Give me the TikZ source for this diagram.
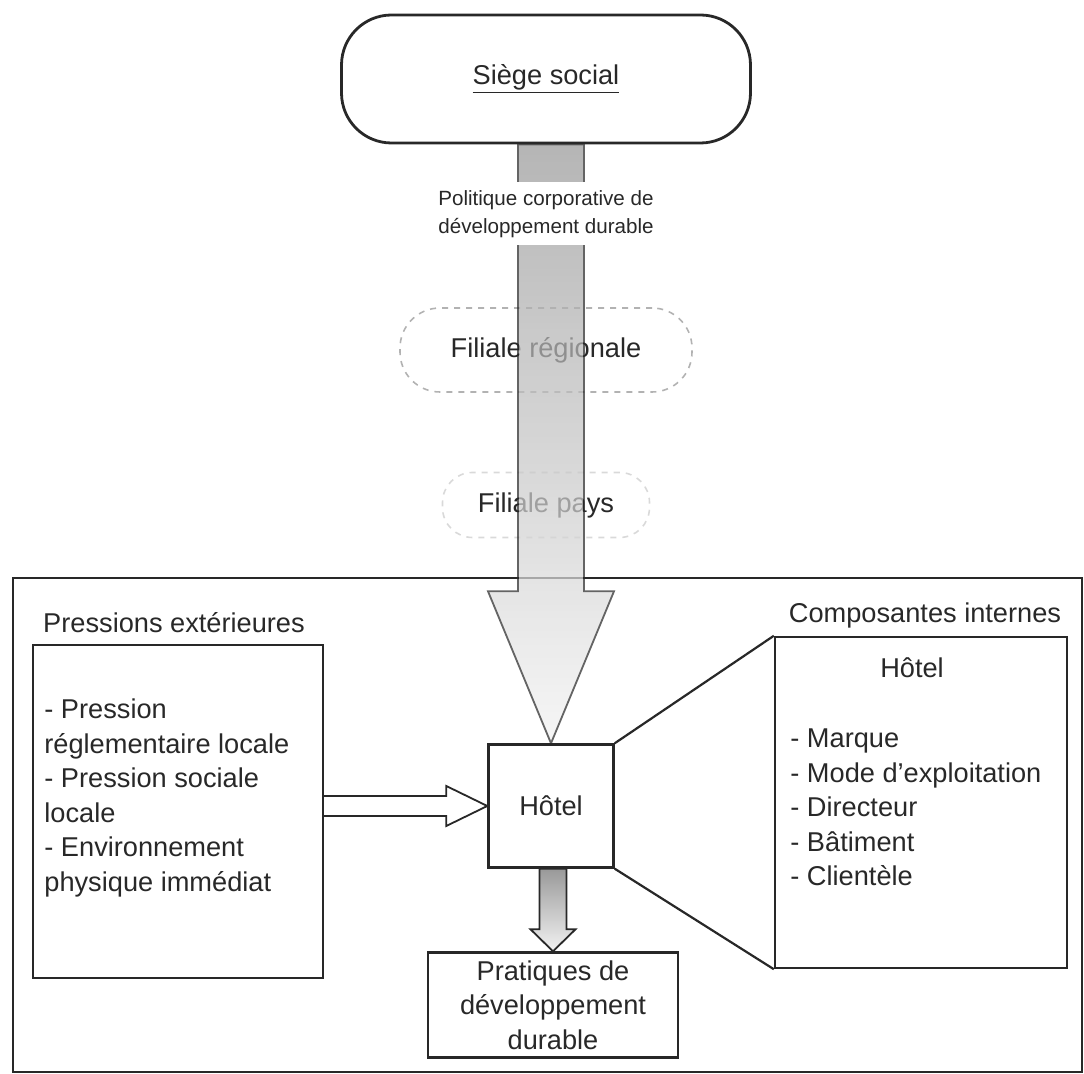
\documentclass[tikz,border=0pt]{standalone}
\usepackage{fontspec}
\setmainfont{Liberation Sans}
\usepackage{tikz}
\usetikzlibrary{positioning, calc}
\definecolor{inkgray}{HTML}{282828}
\newcommand{\px}{0.5pt}
\newcommand{\bigtext}{\fontsize{13.6}{17.25}\selectfont}
\newcommand{\smalltext}{\fontsize{10.3}{14}\selectfont}
\tikzstyle{every block}=[draw=inkgray, line width=1.2pt, text=inkgray, inner sep=0pt, font=\bigtext]
\tikzstyle{plainBox}=[every block, rectangle]
\tikzstyle{roundBox}=[every block, line width=1.4pt, rounded corners=25pt]
\tikzstyle{ghostBox}=[draw=gray!60, dashed, line width=0.8pt, text=inkgray, font=\bigtext]
\tikzstyle{plainText}=[text=inkgray, inner sep=0pt, font=\bigtext]
\tikzstyle{line}=[draw=inkgray, line width=1.1pt]
\tikzstyle{fatArrow}=[draw=inkgray, line width=0.9pt, top color=gray!80, bottom color=gray!10]
\tikzstyle{hollowArrow}=[draw=inkgray, line width=0.9pt, fill=white]

\begin{document}
\begin{tikzpicture}[x=0.5pt, y=-0.5pt]
      \useasboundingbox (0,0) rectangle (1084,1074);

      % top of the chain
      \node[roundBox, minimum width=409*\px, minimum height=128*\px] (siege) at (546,79) {\underline{Siège social}};
      \node[ghostBox, rounded corners=20pt, minimum width=292*\px, minimum height=84*\px] (regional) at (546,350) {Filiale régionale};
      \node[ghostBox, draw=gray!30, rounded corners=15pt, minimum width=207*\px, minimum height=65*\px] (country) at (546,505) {Filiale pays};

      % the hotel and its surroundings
      \node[plainBox, minimum width=1069*\px, minimum height=494*\px] (frame) at (547.5,825) {};
      \node[plainBox, minimum width=125*\px, minimum height=123*\px] (hotel) at (551,806) {Hôtel};
      \node[plainBox, minimum width=250*\px, minimum height=105*\px, align=center] (practices) at (553,1005) {Pratiques de\\développement\\durable};

      \node[plainBox, minimum width=290*\px, minimum height=333*\px] (external) at (178,811.5) {};
      \node[plainText] (externalTitle) at (174,623) {Pressions extérieures};
      \node[plainText, align=left, anchor=west] (externalList) at (44,798) {- Pression\\réglementaire locale\\- Pression sociale\\locale\\- Environnement\\physique immédiat};

      \node[plainBox, minimum width=292*\px, minimum height=331*\px] (internal) at (921,802.5) {};
      \node[plainText] (internalTitle) at (925,615) {Composantes internes};
      \node[plainText] (internalHotel) at (912,668) {Hôtel};
      \node[plainText, align=left, anchor=west] (internalList) at (790,807.5) {- Marque\\- Mode d'exploitation\\- Directeur\\- Bâtiment\\- Clientèle};

      % big arrow from the head office, see-through over the subsidiaries
      \coordinate (bigTop) at (siege.south -| hotel.north);
      \begin{scope}[transparency group, opacity=0.72]
        \draw[fatArrow]
        ($(bigTop)+(-33,0)$) -- ($(bigTop)+(33,0)$) --
        ($(hotel.north)+(33,-152)$) -- ($(hotel.north)+(63,-152)$) --
        (hotel.north) --
        ($(hotel.north)+(-63,-152)$) -- ($(hotel.north)+(-33,-152)$) -- cycle;
      \end{scope}
      \node[plainText, fill=white, font=\smalltext, align=center, minimum height=63*\px, inner xsep=2pt] (policy) at (546,214) {Politique corporative de\\développement durable};

      % small arrow to the practices
      \coordinate (smallTop) at (practices.north |- hotel.south);
      \draw[fatArrow]
      ($(smallTop)+(-13.5,0)$) -- ($(smallTop)+(13.5,0)$) --
      ($(practices.north)+(13.5,-22)$) -- ($(practices.north)+(22.5,-22)$) --
      (practices.north) --
      ($(practices.north)+(-22.5,-22)$) -- ($(practices.north)+(-13.5,-22)$) -- cycle;

      % hollow arrow from the outside pressures
      \coordinate (hollowStart) at (external.east |- hotel.west);
      \draw[hollowArrow]
      ($(hollowStart)+(0,-10)$) -- ($(hotel.west)+(-41,-10)$) --
      ($(hotel.west)+(-41,-20)$) -- (hotel.west) --
      ($(hotel.west)+(-41,20)$) -- ($(hotel.west)+(-41,10)$) --
      ($(hollowStart)+(0,10)$);

      % zoom lines to the internal components
      \draw[line] (hotel.north east) -- (internal.north west);
      \draw[line] (hotel.south east) -- (internal.south west);
    \end{tikzpicture}
\end{document}
